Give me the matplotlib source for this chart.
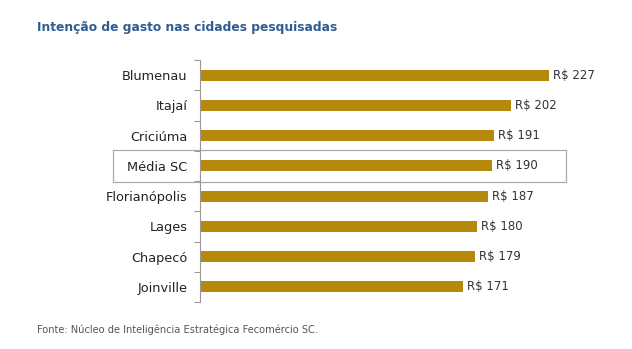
import numpy as np
import matplotlib
matplotlib.use("Agg")
import matplotlib.pyplot as plt
import matplotlib.transforms as mtransforms
from matplotlib.patches import Rectangle

# Dados do gráfico
cidades = ["Blumenau", "Itajaí", "Criciúma", "Média SC", "Florianópolis",
           "Lages", "Chapecó", "Joinville"]
valores = [227, 202, 191, 190, 187, 180, 179, 171]
rotulos = [f"R$ {v}" for v in valores]

cor_barra = "#B58A0C"
cor_titulo = "#2F5C93"

plt.rcParams["font.family"] = ["DejaVu Sans"]

fig = plt.figure(figsize=(6.32, 3.49), dpi=100)
ax = fig.add_axes([200 / 632, 1 - 302 / 349, 400 / 632, (302 - 60) / 349])

y = np.arange(len(cidades))
ax.barh(y, valores, height=0.37, color=cor_barra)

for yi, v, r in zip(y, valores, rotulos):
    ax.text(v + 2.5, yi, r, va="center", ha="left", fontsize=8.5, color="#333333")

ax.set_xlim(0, 260)
ax.set_ylim(len(cidades) - 0.5, -0.5)

# eixo y: rótulos sem ticks, ticks nas fronteiras
ax.set_yticks(y)
ax.set_yticklabels(cidades, fontsize=9.3, color="#222222")
ax.tick_params(axis="y", which="major", length=0, pad=9)
ax.set_yticks(np.arange(-0.5, len(cidades)), minor=True)
ax.tick_params(axis="y", which="minor", length=4, color="#999999", width=0.8)
ax.set_xticks([])

for lado in ["top", "right", "bottom"]:
    ax.spines[lado].set_visible(False)
ax.spines["left"].set_color("#999999")
ax.spines["left"].set_linewidth(0.8)

# caixa em volta da Média SC
idx = cidades.index("Média SC")
trans = mtransforms.blended_transform_factory(ax.transAxes, ax.transData)
ax.add_patch(Rectangle((-0.2175, idx - 0.52), 0.915 + 0.2175, 1.04,
                       transform=trans, fill=False, edgecolor="#AAAAAA",
                       linewidth=0.9, clip_on=False))

fig.text(37 / 632, 1 - 28 / 349, "Intenção de gasto nas cidades pesquisadas",
         fontsize=8.8, fontweight="bold", color=cor_titulo, va="center", ha="left")
fig.text(37 / 632, 1 - 330 / 349,
         "Fonte: Núcleo de Inteligência Estratégica Fecomércio SC.",
         fontsize=7.1, color="#555555", va="center", ha="left")

fig.savefig("out.png", dpi=100)
